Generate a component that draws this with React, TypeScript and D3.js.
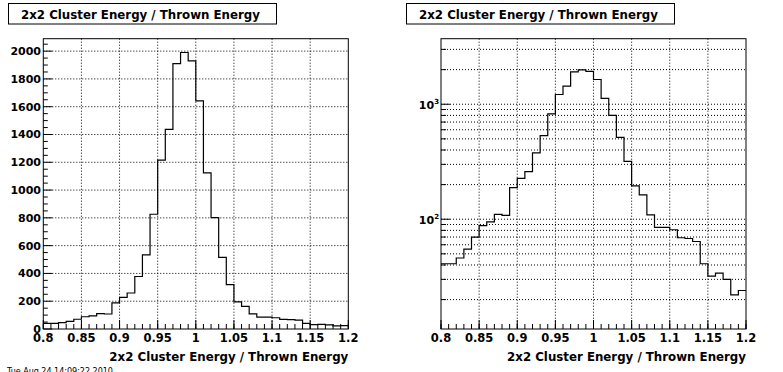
import React from "react";
import * as d3 from "d3";

// bin contents, 40 bins of 0.01 from 0.8 to 1.2
const counts = [
  41, 41, 46, 55, 70, 88, 95, 110, 108, 188,
  227, 259, 378, 533, 826, 1215, 1437, 1910, 1990, 1930,
  1642, 1124, 801, 515, 319, 195, 163, 109, 85, 85,
  81, 69, 68, 64, 41, 32, 34, 30, 22, 24,
];
const xDomain = [0.8, 1.2];
const xTicks = [0.8, 0.85, 0.9, 0.95, 1, 1.05, 1.1, 1.15, 1.2];
const xTickLabels = ["0.8", "0.85", "0.9", "0.95", "1", "1.05", "1.1", "1.15", "1.2"];
const linTicks = [0, 200, 400, 600, 800, 1000, 1200, 1400, 1600, 1800, 2000];
const logMajor = [100, 1000];
const logMinor = [20, 30, 40, 50, 60, 70, 80, 90, 200, 300, 400, 500, 600, 700, 800, 900, 2000, 3000];
const histTitle = "2x2 Cluster Energy / Thrown Energy";
const axisTitle = "2x2 Cluster Energy / Thrown Energy";

const FONT = "'DejaVu Sans', 'Liberation Sans', Arial, sans-serif";
const top = 38.7, bottom = 329;

function stepPath(xs: d3.ScaleLinear<number, number>, ys: (v: number) => number) {
  const n = counts.length;
  const w = (xDomain[1] - xDomain[0]) / n;
  let d = "";
  counts.forEach((c, i) => {
    const xa = xs(xDomain[0] + i * w), xb = xs(xDomain[0] + (i + 1) * w);
    const y = ys(c);
    d += (i === 0 ? `M${xa},${y}` : `L${xa},${y}`) + `L${xb},${y}`;
  });
  return d;
}

function XAxis({ x }: { x: d3.ScaleLinear<number, number> }) {
  const minor = d3.range(0, 41).map((i) => xDomain[0] + i * 0.01);
  return (
    <g>
      {minor.map((v, i) => (
        <line key={"m" + i} x1={x(v)} x2={x(v)} y1={bottom} y2={bottom - 5} stroke="#000" />
      ))}
      {xTicks.map((v, i) => (
        <g key={i}>
          <line x1={x(v)} x2={x(v)} y1={bottom} y2={bottom - 9} stroke="#000" />
          <text x={x(v)} y={bottom + 13} textAnchor="middle" fontSize={11.5} fontWeight="bold" fontFamily={FONT}>
            {xTickLabels[i]}
          </text>
        </g>
      ))}
      <text x={x.range()[1]} y={361} textAnchor="end" fontSize={11.8} fontWeight="bold" fontFamily={FONT}>
        {axisTitle}
      </text>
    </g>
  );
}

function Grid({ x, ys, vals }: { x: d3.ScaleLinear<number, number>; ys: (v: number) => number; vals: number[] }) {
  const [x0, x1] = x.range();
  return (
    <g stroke="#000" strokeDasharray="1,2" strokeWidth={1}>
      {xTicks.slice(1, -1).map((v, i) => (
        <line key={"gx" + i} x1={x(v)} x2={x(v)} y1={top} y2={bottom} />
      ))}
      {vals.map((v, i) => (
        <line key={"gy" + i} x1={x0} x2={x1} y1={ys(v)} y2={ys(v)} />
      ))}
    </g>
  );
}

function TitleBox({ x0 }: { x0: number }) {
  return (
    <g>
      <rect x={x0} y={3.5} width={268} height={20.5} fill="#fff" stroke="#000" />
      <text x={x0 + 132} y={18.7} textAnchor="middle" fontSize={11.8} fontWeight="bold" fontFamily={FONT}>
        {histTitle}
      </text>
    </g>
  );
}

function LinPad() {
  const x = d3.scaleLinear().domain(xDomain).range([43.3, 348.3]);
  const y = d3.scaleLinear().domain([0, d3.max(counts)! * 1.05]).range([bottom, top]);
  const minorY = d3.range(0, 2051, 50);
  return (
    <g>
      <TitleBox x0={8.5} />
      <Grid x={x} ys={y} vals={linTicks.filter((v) => v > 0)} />
      <path d={stepPath(x, y)} fill="none" stroke="#000" strokeWidth={1.2} />
      <rect x={43.3} y={top} width={305} height={bottom - top} fill="none" stroke="#000" />
      {minorY.map((v, i) => (
        <line key={i} x1={43.3} x2={43.3 + (v % 200 === 0 ? 9 : 4.5)} y1={y(v)} y2={y(v)} stroke="#000" />
      ))}
      {linTicks.map((v, i) => (
        <text key={"l" + i} x={41} y={y(v) + 4} textAnchor="end" fontSize={11} fontWeight="bold" fontFamily={FONT}>
          {v}
        </text>
      ))}
      <XAxis x={x} />
    </g>
  );
}

function LogPad() {
  const x = d3.scaleLinear().domain(xDomain).range([441, 746]);
  const y = d3.scaleLog().domain([11.1, 3716]).range([bottom, top]);
  return (
    <g>
      <TitleBox x0={406.5} />
      <Grid x={x} ys={y} vals={[...logMajor, ...logMinor]} />
      <path d={stepPath(x, y)} fill="none" stroke="#000" strokeWidth={1.2} />
      <rect x={441} y={top} width={305} height={bottom - top} fill="none" stroke="#000" />
      {logMinor.map((v, i) => (
        <line key={"n" + i} x1={441} x2={446} y1={y(v)} y2={y(v)} stroke="#000" />
      ))}
      {logMajor.map((v, i) => (
        <g key={"j" + i}>
          <line x1={441} x2={450} y1={y(v)} y2={y(v)} stroke="#000" />
          <text x={439} y={y(v) + 4.5} textAnchor="end" fontSize={11} fontWeight="bold" fontFamily={FONT}>
            10
            <tspan fontSize={7} dy={-5}>{Math.round(Math.log10(v))}</tspan>
          </text>
        </g>
      ))}
      <XAxis x={x} />
    </g>
  );
}

export default function App() {
  return (
    <svg width={783} height={372} style={{ position: "absolute", left: 0, top: 0, background: "#fff" }}>
      <rect width={783} height={372} fill="#fff" />
      <LinPad />
      <LogPad />
      <text x={7} y={373.5} fontSize={8} fontFamily={FONT} fill="#000">
        Tue Aug 24 14:09:22 2010
      </text>
    </svg>
  );
}
